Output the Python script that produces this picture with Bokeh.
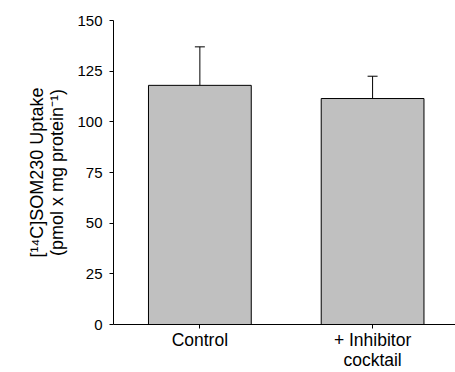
from bokeh.plotting import figure
from bokeh.models import ColumnDataSource, Range1d, FixedTicker, Whisker, TeeHead
from bokeh.embed import file_html
from bokeh.resources import INLINE

# Uptake of [14C]SOM230 with and without the inhibitor cocktail
groups = ["Control", "+ Inhibitor\ncocktail"]
positions = [1, 2]
uptake = [118.0, 111.5]
sem = [19.0, 11.0]
y_ticks = [0, 25, 50, 75, 100, 125, 150]

upper = [u + e for u, e in zip(uptake, sem)]
src = ColumnDataSource(dict(x=positions, top=uptake, upper=upper))

p = figure(width=455, height=372, output_backend="svg", toolbar_location=None,
           x_range=Range1d(0.5, 2.48), y_range=Range1d(0, 150),
           min_border_left=113, min_border_right=0, min_border_top=20,
           min_border_bottom=48)
p.outline_line_color = None
p.xgrid.grid_line_color = None
p.ygrid.grid_line_color = None
p.background_fill_color = "white"
p.border_fill_color = "white"

p.vbar(x="x", top="top", width=0.595, bottom=0, source=src,
       fill_color="#c0c0c0", line_color="black", line_width=1)

whisk = Whisker(base="x", lower="top", upper="upper", source=src,
                line_color="black", line_width=1,
                upper_head=TeeHead(size=10, line_color="black", line_width=1),
                lower_head=None)
p.add_layout(whisk)

font = "Liberation Sans"

# x axis
p.xaxis.ticker = FixedTicker(ticks=positions)
p.xaxis.major_label_overrides = {pos: g for pos, g in zip(positions, groups)}
p.xaxis.minor_tick_line_color = None
p.xaxis.major_tick_in = 0
p.xaxis.major_tick_out = 4
p.xaxis.major_label_text_font = font
p.xaxis.major_label_text_font_size = "17.5px"
p.xaxis.major_label_text_line_height = 1.0
p.xaxis.major_label_text_color = "black"
p.xaxis.major_label_standoff = 1
p.xaxis.axis_line_color = "black"
p.xaxis.major_tick_line_color = "black"

# y axis
p.yaxis.ticker = FixedTicker(ticks=y_ticks)
p.yaxis.minor_tick_line_color = None
p.yaxis.major_tick_in = 0
p.yaxis.major_tick_out = 4
p.yaxis.major_label_text_font = font
p.yaxis.major_label_text_font_size = "15px"
p.yaxis.major_label_text_color = "black"
p.yaxis.major_label_standoff = 7
p.yaxis.axis_line_color = "black"
p.yaxis.major_tick_line_color = "black"
p.yaxis.axis_label = "[¹⁴C]SOM230 Uptake\n(pmol x mg protein⁻¹)"
p.yaxis.axis_label_text_font = font
p.yaxis.axis_label_text_font_size = "18px"
p.yaxis.axis_label_text_line_height = 1.0
p.yaxis.axis_label_text_font_style = "normal"
p.yaxis.axis_label_text_color = "black"
p.yaxis.axis_label_standoff = 7

open("out.html", "w").write(file_html(p, INLINE))
